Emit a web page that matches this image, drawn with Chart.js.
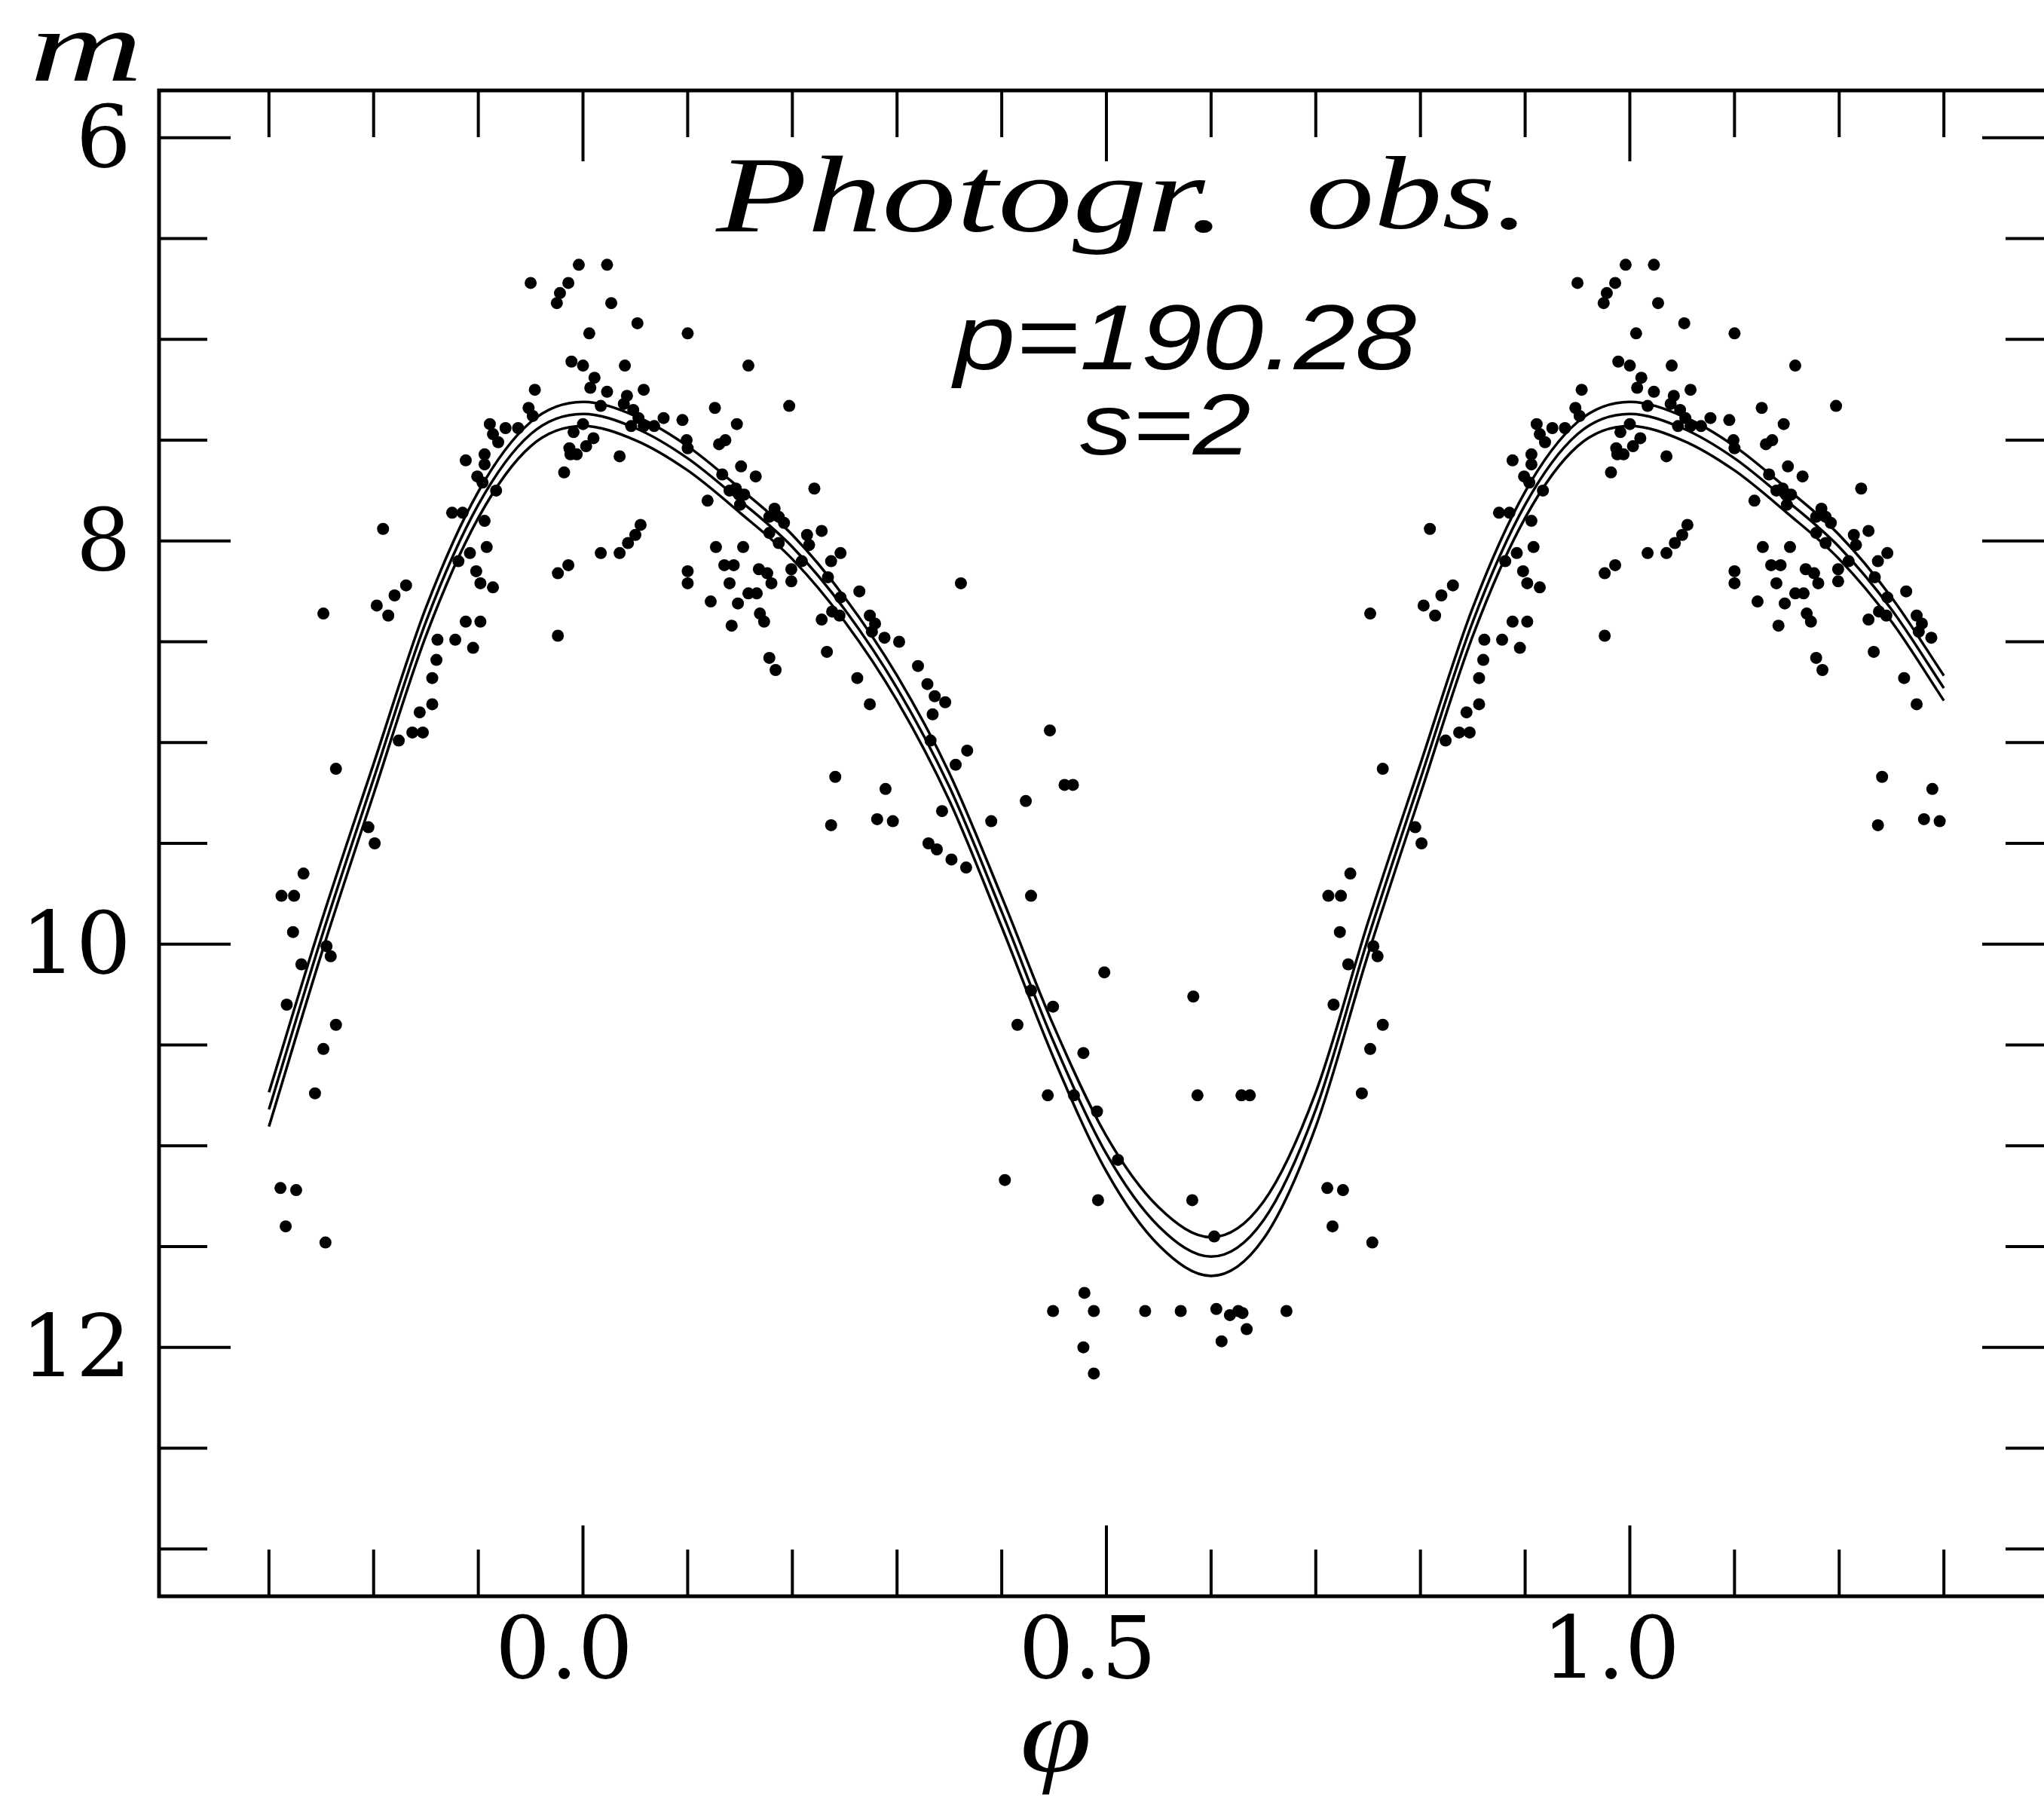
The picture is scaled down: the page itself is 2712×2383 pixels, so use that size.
<!DOCTYPE html>
<html>
<head>
<meta charset="utf-8">
<title>Photogr. obs. — p=190.28</title>
<script src="https://cdn.jsdelivr.net/npm/chart.js@4.4.1/dist/chart.umd.min.js"></script>
<style>
  html, body { margin: 0; padding: 0; background: #fff; overflow: hidden; }
  #wrap { position: relative; width: 2740px; height: 2383px; }
</style>
</head>
<body>
<div id="wrap"><canvas id="lc" width="2740" height="2383"></canvas></div>
<script>
/* ═══════════════════════════════════════
   Folded light curve, photographic obs.
   ═══════════════════════════════════════ */

/* ── observations: phase / magnitude ── */
const obsPhase = [
  -0.236,-0.199,-0.205,-0.267,-0.288,-0.276,-0.277,-0.269,-0.241,-0.245,
  -0.283,-0.236,-0.248,-0.256,-0.289,-0.274,-0.284,-0.246,
  -0.089,-0.074,-0.062,-0.086,-0.081,-0.112,-0.094,-0.094,-0.101,-0.096,
  -0.083,-0.125,-0.115,-0.094,-0.191,-0.092,-0.108,-0.119,-0.102,-0.098,
  -0.086,-0.169,-0.180,-0.197,-0.186,-0.248,-0.112,-0.098,-0.139,-0.122,
  -0.105,-0.140,-0.144,-0.144,-0.156,-0.163,-0.153,-0.176,
  -0.004,0.023,-0.050,-0.014,-0.022,-0.025,0.027,0.052,0.006,0.100,
  -0.011,0.000,0.040,0.158,0.011,-0.046,0.007,0.058,0.023,0.042,
  -0.052,-0.048,0.017,0.039,0.048,0.126,0.197,0.077,0.095,0.053,
  0.058,0.046,0.068,0.147,0.000,-0.009,0.010,0.003,-0.013,-0.012,
  -0.006,0.099,0.100,0.130,0.136,0.035,-0.018,0.151,0.133,0.165,
  0.221,0.146,0.140,0.149,0.154,0.119,0.150,0.183,0.178,0.187,
  0.192,0.228,0.178,0.214,0.055,0.050,0.043,0.017,0.035,0.187,
  0.127,0.153,0.216,0.209,0.246,0.237,0.168,0.176,0.135,0.144,
  0.199,0.199,-0.014,-0.024,0.100,0.100,0.140,0.180,0.234,0.246,
  0.264,0.274,0.279,0.276,0.228,0.238,0.245,0.158,0.166,0.122,
  0.148,0.169,0.173,0.142,-0.024,0.233,0.288,
  0.361,0.302,0.320,0.329,0.336,0.346,0.334,0.262,0.274,0.367,
  0.356,0.446,0.423,0.390,0.343,0.241,0.289,0.237,0.281,0.296,
  0.330,0.338,0.352,0.366,0.428,0.184,0.178,0.332,0.460,0.468,
  0.498,0.583,0.428,0.449,0.415,0.478,0.444,0.469,0.587,0.629,
  0.637,0.491,0.511,0.403,0.492,0.582,0.603,0.479,0.449,0.488,
  0.537,0.571,0.605,0.618,0.626,0.630,0.672,0.634,0.610,0.478,
  0.488
];
const obsMag = [
  9.13,9.50,9.42,9.65,9.76,9.76,9.94,10.10,10.06,10.01,
  10.30,10.40,10.52,10.74,11.21,11.22,11.40,11.48,
  7.42,7.44,7.44,7.47,7.51,7.60,7.57,7.62,7.68,7.71,
  7.75,7.86,7.86,7.90,7.94,8.03,8.06,8.10,8.15,8.21,
  8.23,8.22,8.27,8.32,8.37,8.36,8.40,8.40,8.49,8.49,
  8.53,8.59,8.68,8.81,8.85,8.95,8.95,8.99,
  6.63,6.63,6.72,6.72,6.77,6.82,6.82,6.92,6.97,6.97,
  7.11,7.13,7.13,7.13,7.19,7.25,7.24,7.25,7.26,7.28,
  7.34,7.38,7.33,7.32,7.35,7.34,7.33,7.39,7.40,7.39,
  7.43,7.43,7.43,7.42,7.42,7.46,7.49,7.53,7.54,7.57,
  7.57,7.50,7.54,7.52,7.50,7.58,7.66,7.63,7.67,7.68,
  7.74,7.74,7.75,7.77,7.77,7.80,7.82,7.84,7.88,7.88,
  7.91,7.95,7.96,7.97,7.92,7.97,8.01,8.06,8.06,8.01,
  8.03,8.03,8.02,8.10,8.06,8.10,8.14,8.16,8.12,8.12,
  8.14,8.20,8.12,8.16,8.15,8.21,8.21,8.21,8.18,8.28,
  8.25,8.37,8.41,8.45,8.39,8.35,8.37,8.26,8.26,8.30,
  8.31,8.36,8.40,8.42,8.47,8.55,8.48,
  8.21,8.50,8.62,8.71,8.77,8.80,8.86,8.68,8.81,9.04,
  9.11,8.94,9.29,9.39,9.34,9.17,9.23,9.41,9.38,9.39,
  9.50,9.53,9.58,9.62,9.76,8.64,8.58,8.99,9.21,9.21,
  10.14,10.26,10.23,10.31,10.40,10.54,10.75,10.75,10.75,10.75,
  10.75,10.83,11.07,11.17,11.27,11.27,11.45,11.73,11.82,11.82,
  11.82,11.82,11.81,11.84,11.82,11.83,11.82,11.91,11.97,12.00,
  12.13
];

/* ── fitted curve (s=2) and its band half-width ── */
const curvePhase = [-0.30,-0.25,-0.20,-0.15,-0.10,-0.05,0.00,0.05,0.10,0.15,
                    0.20,0.25,0.30,0.35,0.40,0.45,0.50,0.55,0.60,0.65];
const curveMid   = [10.82,9.97,9.18,8.40,7.82,7.47,7.37,7.44,7.59,7.80,
                    8.03,8.34,8.73,9.22,9.84,10.49,11.04,11.40,11.55,11.37];
const curveHalf  = [0.085,0.080,0.075,0.070,0.065,0.060,0.060,0.060,0.060,0.060,
                    0.060,0.060,0.062,0.068,0.075,0.080,0.088,0.094,0.096,0.092];

/* ── axis ticks ── */
const xMajorTicks = [0, 0.5, 1.0];
const xMinorTicks = [-0.3, -0.2, -0.1, 0.1, 0.2, 0.3, 0.4, 0.6, 0.7, 0.8, 0.9, 1.1, 1.2, 1.3];
const yMajorTicks = [6, 8, 10, 12];
const yMinorTicks = [6.5, 7, 7.5, 8.5, 9, 9.5, 10.5, 11, 11.5, 12.5, 13];

/* phases up to 0.3 are repeated one cycle later, as on the plot */
function folded(phases, values) {
  const out = [];
  phases.forEach((p, i) => {
    out.push({ x: p, y: values[i] });
    if (p <= 0.3) out.push({ x: p + 1, y: values[i] });
  });
  return out.sort((a, b) => a.x - b.x);
}

const midCurve   = folded(curvePhase, curveMid);
const upperCurve = folded(curvePhase, curveMid.map((m, i) => m - curveHalf[i]));
const lowerCurve = folded(curvePhase, curveMid.map((m, i) => m + curveHalf[i]));
const obsPoints  = folded(obsPhase, obsMag);

/* ── text fitted into an ink box ── */
function drawFitted(ctx, text, font, box) {
  ctx.save();
  ctx.font = font;
  ctx.textAlign = 'left';
  ctx.textBaseline = 'alphabetic';
  const m  = ctx.measureText(text);
  const w  = m.actualBoundingBoxLeft + m.actualBoundingBoxRight;
  const h  = m.actualBoundingBoxAscent + m.actualBoundingBoxDescent;
  const sx = (box[2] - box[0]) / w;
  const sy = (box[3] - box[1]) / h;
  ctx.translate(box[0] + m.actualBoundingBoxLeft * sx, box[1] + m.actualBoundingBoxAscent * sy);
  ctx.scale(sx, sy);
  ctx.fillStyle = '#000';
  ctx.fillText(text, 0, 0);
  ctx.restore();
}

/* ── frame, inward ticks, annotations ── */
const framePlugin = {
  id: 'frame',
  afterDraw(chart) {
    const { ctx, chartArea: a, scales: { x, y } } = chart;
    ctx.save();
    ctx.strokeStyle = '#000';
    ctx.lineCap = 'butt';
    ctx.lineWidth = 4;

    const tickX = (v, len) => {
      const px = x.getPixelForValue(v);
      ctx.beginPath();
      ctx.moveTo(px, a.bottom); ctx.lineTo(px, a.bottom - len);
      ctx.moveTo(px, a.top);    ctx.lineTo(px, a.top + len);
      ctx.stroke();
    };
    const tickY = (v, len) => {
      const py = y.getPixelForValue(v);
      ctx.beginPath();
      ctx.moveTo(a.left, py);  ctx.lineTo(a.left + len, py);
      ctx.moveTo(a.right, py); ctx.lineTo(a.right - len, py);
      ctx.stroke();
    };
    xMinorTicks.forEach(v => tickX(v, 62));
    xMajorTicks.forEach(v => tickX(v, 94));
    yMinorTicks.forEach(v => tickY(v, 64));
    yMajorTicks.forEach(v => tickY(v, 95));

    ctx.lineWidth = 5;
    ctx.strokeRect(a.left, a.top, a.right - a.left, a.bottom - a.top);
    ctx.restore();

    const serifIt = '"Liberation Serif", "DejaVu Serif", serif';
    const sansIt  = '"Liberation Sans", "DejaVu Sans", sans-serif';
    drawFitted(ctx, 'Photogr.', 'italic 148px ' + serifIt, [949, 205, 1609, 338]);
    drawFitted(ctx, 'obs.',     'italic 148px ' + serifIt, [1738, 207, 2013, 305]);
    drawFitted(ctx, 'p=190.28', 'italic 121px ' + sansIt,  [1261, 403, 1879, 515]);
    drawFitted(ctx, 's=2',      'italic 112px ' + sansIt,  [1433, 523, 1658, 604]);
    drawFitted(ctx, 'm',        'italic 140px ' + serifIt, [47, 43, 182, 107]);
    drawFitted(ctx, 'φ',        'italic 110px ' + serifIt, [1358, 2280, 1444, 2380]);
  }
};

const tickFont = { family: '"DejaVu Serif", serif', size: 115 };

new Chart(document.getElementById('lc'), {
  type: 'scatter',
  data: {
    datasets: [
      { data: upperCurve, showLine: true, pointRadius: 0, borderColor: '#000', borderWidth: 3.5,
        cubicInterpolationMode: 'monotone', fill: false },
      { data: midCurve,   showLine: true, pointRadius: 0, borderColor: '#000', borderWidth: 3.5,
        cubicInterpolationMode: 'monotone', fill: false },
      { data: lowerCurve, showLine: true, pointRadius: 0, borderColor: '#000', borderWidth: 3.5,
        cubicInterpolationMode: 'monotone', fill: false },
      { data: obsPoints, showLine: false, pointRadius: 8, pointStyle: 'circle',
        pointBackgroundColor: '#000', pointBorderWidth: 0 }
    ]
  },
  options: {
    responsive: false,
    devicePixelRatio: 1,
    animation: false,
    events: [],
    layout: { padding: { top: 120, right: 15, left: 0, bottom: 0 } },
    plugins: { legend: { display: false }, tooltip: { enabled: false } },
    scales: {
      x: {
        type: 'linear', min: -0.405, max: 1.405,
        grid: { display: false, drawTicks: false },
        border: { display: false },
        afterBuildTicks: s => { s.ticks = xMajorTicks.map(v => ({ value: v })); },
        afterFit: s => { s.height = 265; },
        ticks: { color: '#000', font: tickFont, padding: 9, labelOffset: -25, maxRotation: 0,
                 callback: v => Number(v).toFixed(1) }
      },
      y: {
        type: 'linear', reverse: true, min: 5.765, max: 13.235,
        grid: { display: false, drawTicks: false },
        border: { display: false },
        afterBuildTicks: s => { s.ticks = yMajorTicks.map(v => ({ value: v })); },
        afterFit: s => { s.width = 211; },
        ticks: { color: '#000', font: tickFont, padding: 37, labelOffset: 8,
                 callback: v => String(v) }
      }
    }
  },
  plugins: [framePlugin]
});
</script>
</body>
</html>
